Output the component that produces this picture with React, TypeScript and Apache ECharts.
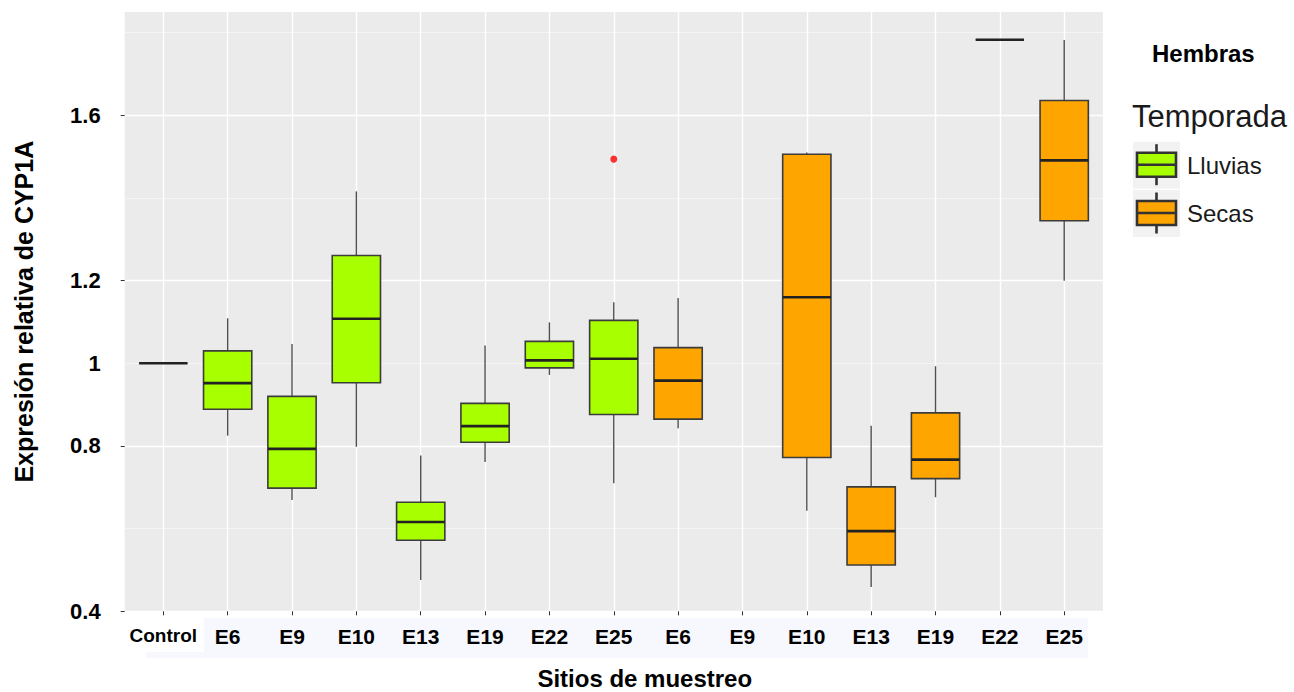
import React, { useEffect, useRef } from 'react';
import * as echarts from 'echarts';

const siteLabels = ['Control', 'E6', 'E9', 'E10', 'E13', 'E19', 'E22', 'E25', 'E6', 'E9', 'E10', 'E13', 'E19', 'E22', 'E25'];

// [categoryIndex, min, q1, median, q3, max]
const controlBox = [[0, 1.0, 1.0, 1.0, 1.0, 1.0]];
const lluviasBoxes = [
  [1, 0.825, 0.889, 0.952, 1.03, 1.109],
  [2, 0.669, 0.698, 0.793, 0.92, 1.047],
  [3, 0.798, 0.953, 1.108, 1.261, 1.416],
  [4, 0.476, 0.572, 0.616, 0.664, 0.777],
  [5, 0.761, 0.809, 0.848, 0.903, 1.043],
  [6, 0.972, 0.989, 1.007, 1.053, 1.099],
  [7, 0.71, 0.876, 1.011, 1.104, 1.148],
];
const secasBoxes = [
  [8, 0.843, 0.865, 0.958, 1.038, 1.158],
  [10, 0.643, 0.772, 1.16, 1.506, 1.51],
  [11, 0.459, 0.512, 0.594, 0.701, 0.849],
  [12, 0.676, 0.721, 0.767, 0.88, 0.993],
  [13, 1.783, 1.783, 1.783, 1.783, 1.783],
  [14, 1.2, 1.345, 1.491, 1.636, 1.782],
];
const outlierPoints = [[7, 1.494]];
const yTickValues = [0.4, 0.8, 1.2, 1.6];
const yLabelValues = [0.4, 0.8, 1, 1.2, 1.6];

const LLUVIAS = '#A8FF00';
const SECAS = '#FFA500';
const FONT = '"Liberation Sans", Arial, Helvetica, sans-serif';

const Y_MIN = 0.4;
const Y_MAX = 1.85;

function renderBox(fill: string) {
  return (params: any, api: any) => {
    const x = api.value(0);
    const pMin = api.coord([x, api.value(1)]);
    const pQ1 = api.coord([x, api.value(2)]);
    const pMed = api.coord([x, api.value(3)]);
    const pQ3 = api.coord([x, api.value(4)]);
    const pMax = api.coord([x, api.value(5)]);
    const w = api.size([1, 0])[0] * 0.75;
    const cx = pMed[0];
    const whisker = { stroke: '#505050', lineWidth: 1.4 };
    return {
      type: 'group',
      children: [
        { type: 'line', shape: { x1: cx, y1: pMax[1], x2: cx, y2: pQ3[1] }, style: whisker },
        { type: 'line', shape: { x1: cx, y1: pQ1[1], x2: cx, y2: pMin[1] }, style: whisker },
        {
          type: 'rect',
          shape: { x: cx - w / 2, y: pQ3[1], width: w, height: pQ1[1] - pQ3[1] },
          style: { fill, stroke: '#3c3c3c', lineWidth: 1.6 },
        },
        {
          type: 'line',
          shape: { x1: cx - w / 2, y1: pMed[1], x2: cx + w / 2, y2: pMed[1] },
          style: { stroke: '#222222', lineWidth: 2.6 },
        },
      ],
    };
  };
}

function legendKey(y: number, fill: string) {
  // y = top of gray key square
  return [
    { type: 'rect', shape: { x: 1133, y, width: 47, height: 47 }, style: { fill: '#F2F2F2' } },
    { type: 'line', shape: { x1: 1156.5, y1: y + 2.5, x2: 1156.5, y2: y + 11 }, style: { stroke: '#333', lineWidth: 2.6 } },
    { type: 'line', shape: { x1: 1156.5, y1: y + 35, x2: 1156.5, y2: y + 43.5 }, style: { stroke: '#333', lineWidth: 2.6 } },
    { type: 'rect', shape: { x: 1137, y: y + 11, width: 39, height: 24 }, style: { fill, stroke: '#333', lineWidth: 2.6 } },
    { type: 'line', shape: { x1: 1137, y1: y + 23, x2: 1176, y2: y + 23 }, style: { stroke: '#333', lineWidth: 2.6 } },
  ];
}

export default function App() {
  const ref = useRef<HTMLDivElement>(null);
  useEffect(() => {
    if (!ref.current) return;
    const chart = echarts.init(ref.current, undefined, { renderer: 'svg' });
    const gridTop = 12;
    const gridHeight = 599.3;
    const band = 64.35;
    const panelLeft = 124.7;
    const firstCenter = panelLeft + 0.6 * band;

    const option: any = {
      animation: false,
      backgroundColor: '#ffffff',
      textStyle: { fontFamily: FONT },
      grid: [
        {
          left: panelLeft, top: gridTop, width: 15.2 * band, height: gridHeight,
          show: true, backgroundColor: '#EBEBEB', borderWidth: 0,
          containLabel: false, outerBoundsMode: 'none',
        },
        {
          left: firstCenter, top: gridTop, width: 14 * band, height: gridHeight,
          containLabel: false, outerBoundsMode: 'none',
        },
      ],
      xAxis: [
        { gridIndex: 0, type: 'value', min: 0, max: 1, show: false },
        {
          gridIndex: 1,
          type: 'category',
          data: siteLabels,
          boundaryGap: false,
          axisLine: { show: false },
          axisTick: { show: true, interval: 0, length: 4, lineStyle: { color: '#333', width: 1 } },
          axisLabel: {
            interval: 0,
            margin: 15,
            formatter: (v: string, i: number) => (i === 0 ? '{c|' + v + '}' : '{e|' + v + '}'),
            rich: {
              c: { fontFamily: FONT, fontWeight: 'bold', fontSize: 19, color: '#000' },
              e: { fontFamily: FONT, fontWeight: 'bold', fontSize: 21, color: '#000' },
            },
          },
          splitLine: { show: true, lineStyle: { color: '#FFFFFF', width: 1.4 } },
          name: 'Sitios de muestreo',
          nameLocation: 'middle',
          nameGap: 56,
          nameTextStyle: {
            fontFamily: FONT, fontWeight: 'bold', fontSize: 24, lineHeight: 22, color: '#000',
            padding: [0, 0, 0, 62],
          },
        },
      ],
      yAxis: [
        {
          gridIndex: 0, type: 'value', min: Y_MIN, max: Y_MAX, interval: 0.2,
          axisLine: { show: false }, axisTick: { show: false }, axisLabel: { show: false },
          splitLine: { show: true, showMaxLine: false, lineStyle: { color: '#F7F7F7', width: 0.8 } },
        },
        {
          gridIndex: 1, type: 'value', min: Y_MIN, max: Y_MAX, interval: 0.2,
          offset: firstCenter - panelLeft,
          axisLine: { show: false },
          axisTick: { show: true, length: 4, customValues: yTickValues, lineStyle: { color: '#333', width: 1 } },
          axisLabel: {
            customValues: yLabelValues,
            margin: 24,
            fontFamily: FONT, fontWeight: 'bold', fontSize: 22, color: '#000',
            formatter: (v: number) => {
              const hit = yLabelValues.find((t) => Math.abs(t - v) < 1e-6);
              return hit === undefined ? '' : String(hit);
            },
          },
          splitLine: { show: false },
          name: 'Expresión relativa de CYP1A',
          nameLocation: 'middle',
          nameGap: 88,
          nameTextStyle: { fontFamily: FONT, fontWeight: 'bold', fontSize: 25, color: '#000' },
        },
        {
          gridIndex: 0, type: 'value', min: Y_MIN, max: Y_MAX, interval: 0.4,
          axisLine: { show: false }, axisTick: { show: false }, axisLabel: { show: false },
          splitLine: { show: true, showMaxLine: false, lineStyle: { color: '#FFFFFF', width: 1.4 } },
        },
      ],
      series: [
        {
          name: 'Control', type: 'custom', xAxisIndex: 1, yAxisIndex: 1,
          renderItem: renderBox('#EBEBEB'), encode: { x: 0, y: [1, 2, 3, 4, 5] }, data: controlBox,
        },
        {
          name: 'Lluvias', type: 'custom', xAxisIndex: 1, yAxisIndex: 1,
          renderItem: renderBox(LLUVIAS), encode: { x: 0, y: [1, 2, 3, 4, 5] }, data: lluviasBoxes,
        },
        {
          name: 'Secas', type: 'custom', xAxisIndex: 1, yAxisIndex: 1,
          renderItem: renderBox(SECAS), encode: { x: 0, y: [1, 2, 3, 4, 5] }, data: secasBoxes,
        },
        {
          name: 'Atípicos', type: 'scatter', xAxisIndex: 1, yAxisIndex: 1,
          symbolSize: 7, itemStyle: { color: '#FF0000' }, data: outlierPoints, z: 5,
        },
      ],
      graphic: [
        { type: 'rect', z: -1, shape: { x: 204, y: 618, width: 884, height: 40 }, style: { fill: '#F7F8FD' } },
        { type: 'rect', z: -1, shape: { x: 146, y: 652, width: 58, height: 6 }, style: { fill: '#F7F8FD' } },
        {
          type: 'text', left: 1152, top: 41,
          style: { text: 'Hembras', fontFamily: FONT, fontWeight: 'bold', fontSize: 24, fill: '#000' },
        },
        {
          type: 'text', left: 1132, top: 101,
          style: { text: 'Temporada', fontFamily: FONT, fontSize: 31, fill: '#1a1a1a' },
        },
        { type: 'group', children: legendKey(141.7, LLUVIAS) },
        { type: 'group', children: legendKey(190, SECAS) },
        {
          type: 'text', left: 1187, top: 153,
          style: { text: 'Lluvias', fontFamily: FONT, fontSize: 24, fill: '#1a1a1a' },
        },
        {
          type: 'text', left: 1187, top: 201,
          style: { text: 'Secas', fontFamily: FONT, fontSize: 24, fill: '#1a1a1a' },
        },
      ],
    };
    chart.setOption(option);
    return () => chart.dispose();
  }, []);
  return <div ref={ref} style={{ position: 'fixed', left: 0, top: 0, width: 1294, height: 692 }} />;
}
